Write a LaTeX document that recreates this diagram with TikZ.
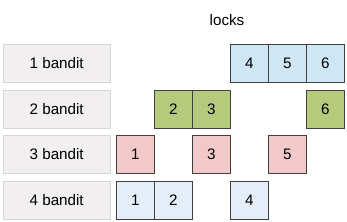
\documentclass[tikz,border=0pt]{standalone}
\usepackage{fontspec}
\setmainfont{Liberation Sans}
\definecolor{lblfill}{HTML}{F2EFF1}
\definecolor{lbldraw}{HTML}{D6D6D6}
\definecolor{cblue}{HTML}{CFE7F5}
\definecolor{cgreen}{HTML}{B6CA7E}
\definecolor{cpink}{HTML}{F1C9C9}
\definecolor{clight}{HTML}{E5EEF8}
\definecolor{cedge}{HTML}{404040}
\tikzset{
  lbl/.style={draw=lbldraw, fill=lblfill, minimum width=107bp, minimum height=38bp, inner sep=0pt, anchor=north west, font=\fontsize{15.2bp}{17bp}\selectfont},
  sq/.style={draw=cedge, line width=0.8bp, minimum width=38bp, minimum height=38bp, inner sep=0pt, anchor=north west, font=\fontsize{15.2bp}{17bp}\selectfont},
}
\begin{document}
\begin{tikzpicture}[x=1bp,y=-1bp]
\useasboundingbox (0,0) rectangle (347,222);
\node[font=\fontsize{15.2bp}{17bp}\selectfont] (locks) at (227,20) {locks};
\node[lbl] (l1) at (3,44) {1 bandit};
\node[lbl] (l2) at (3,89.5) {2 bandit};
\node[lbl] (l3) at (3,135) {3 bandit};
\node[lbl] (l4) at (3,180.5) {4 bandit};
% row 1
\node[sq, fill=cblue] (a4) at (230,44) {4};
\node[sq, fill=cblue] (a5) at (268,44) {5};
\node[sq, fill=cblue] (a6) at (306,44) {6};
% row 2
\node[sq, fill=cgreen] (b2) at (154,89.5) {2};
\node[sq, fill=cgreen] (b3) at (192,89.5) {3};
\node[sq, fill=cgreen] (b6) at (306,89.5) {6};
% row 3
\node[sq, fill=cpink] (c1) at (116,135) {1};
\node[sq, fill=cpink] (c3) at (192,135) {3};
\node[sq, fill=cpink] (c5) at (268,135) {5};
% row 4
\node[sq, fill=clight] (d1) at (116,180.5) {1};
\node[sq, fill=clight] (d2) at (154,180.5) {2};
\node[sq, fill=clight] (d4) at (230,180.5) {4};
\end{tikzpicture}
\end{document}
